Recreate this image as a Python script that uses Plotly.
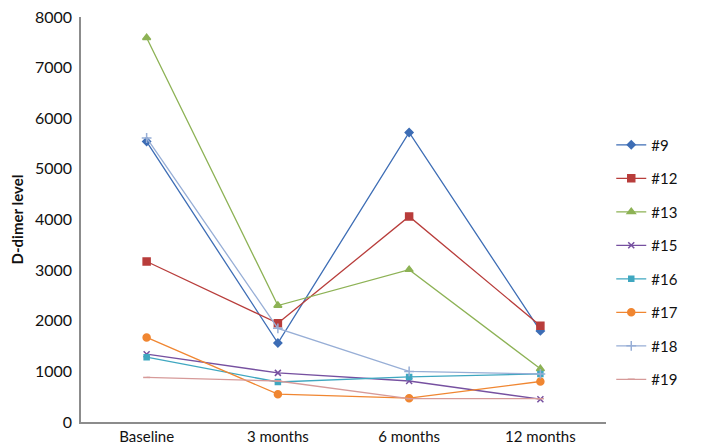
import plotly.graph_objects as go

timepoints = ["Baseline", "3 months", "6 months", "12 months"]

patients = ["#9", "#12", "#13", "#15", "#16", "#17", "#18", "#19"]
p9 = [5540, 1560, 5720, 1800]
p12 = [3170, 1950, 4060, 1900]
p13 = [7590, 2300, 3010, 1050]
p15 = [1340, 970, 810, 450]
p16 = [1280, 790, 890, 950]
p17 = [1670, 550, 470, 800]
p18 = [5610, 1850, 1000, 950]
p19 = [880, 810, 460, 460]

series = [p9, p12, p13, p15, p16, p17, p18, p19]

STYLES = [
    ("#3D6DB5", "diamond", 6),
    ("#B83D3B", "square", 7),
    ("#8DB255", "triangle-up", 7),
    ("#7650A0", "x-thin", 6),
    ("#3FA7C0", "square", 5),
    ("#F08631", "circle", 7),
    ("#97AED6", "cross-thin", 7),
    ("#D69A99", "line-ew", 5),
]

fig = go.Figure()
for name, vals, (color, symbol, size) in zip(patients, series, STYLES):
    fig.add_trace(go.Scatter(
        x=timepoints,
        y=vals,
        name=name,
        legendgroup=name,
        mode="lines+markers",
        line=dict(color=color, width=1.3),
        marker=dict(symbol=symbol, size=size, color=color,
                    line=dict(color=color, width=1.5)),
    ))

fig.update_layout(
    width=709,
    height=444,
    margin=dict(l=73, r=111, t=9, b=30, autoexpand=False),
    plot_bgcolor="white",
    paper_bgcolor="white",
    font=dict(family="Lato, Open Sans, sans-serif", size=15, color="#111111"),
    showlegend=True,
    legend=dict(
        x=1.01, y=0.395, yanchor="middle", xanchor="left",
        tracegroupgap=11,
        font=dict(size=15),
        itemwidth=30,
    ),
)
fig.update_xaxes(
    range=[-0.5, 3.5],
    automargin=False,
    showline=True, linecolor="#8c8c8c", linewidth=1.5,
    showgrid=False, ticks="", zeroline=False,
    tickfont=dict(size=15),
)
fig.update_yaxes(
    range=[0, 8000],
    dtick=1000,
    automargin=False,
    showline=True, linecolor="#8c8c8c", linewidth=1.5,
    showgrid=False, ticks="", zeroline=False,
    tickfont=dict(size=16),
    ticklabelstandoff=4,
    ticklabeloverflow="allow",
    title=dict(text="<b>D-dimer level</b>", font=dict(size=15), standoff=16),
)

fig.write_html("out.html")
